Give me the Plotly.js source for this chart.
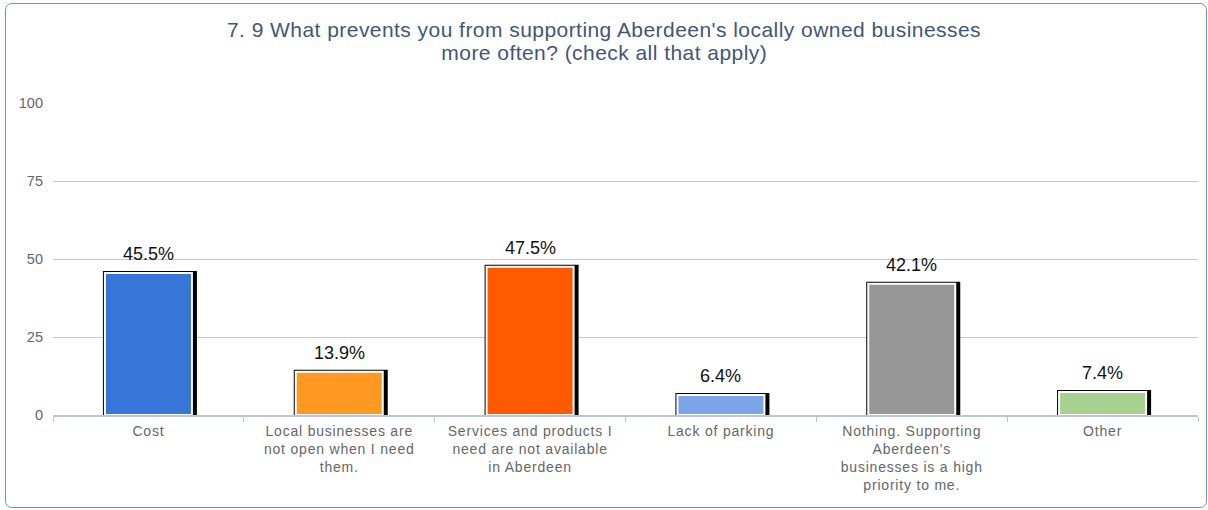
<!DOCTYPE html>
<html>
<head>
<meta charset="utf-8">
<script src="https://cdn.plot.ly/plotly-3.0.1.min.js"></script>
<style>
html,body{margin:0;padding:0;background:#fff;}
#wrap{position:relative;width:1208px;height:510px;}
#chart{position:absolute;left:0;top:0;width:1208px;height:510px;}
#frame{position:absolute;left:5px;top:3px;width:1200px;height:503px;border:1px solid #6f93c6;border-radius:7px;pointer-events:none;}
#chart .xtick text{letter-spacing:0.8px;}
#chart .gtitle{letter-spacing:0.45px;}
#chart g.annotation[data-index="0"] text{letter-spacing:0.45px;}
</style>
</head>
<body>
<div id="wrap"><div id="chart"></div><div id="frame"></div></div>
<script>
// ---- data ----
const categories = [
  "Cost",
  "Local businesses are<br>not open when I need<br>them.",
  "Services and products I<br>need are not available<br>in Aberdeen",
  "Lack of parking",
  "Nothing. Supporting<br>Aberdeen's<br>businesses is a high<br>priority to me.",
  "Other"
];
const values = [45.5, 13.9, 47.5, 6.4, 42.1, 7.4];
const valueLabels = ["45.5%", "13.9%", "47.5%", "6.4%", "42.1%", "7.4%"];
const barColors = ["#3775d9", "#ff9922", "#ff5a00", "#7da4e6", "#979797", "#a6d18e"];
const yTickVals = [0, 25, 50, 75, 100];
const titleLine1 = "7. 9 What prevents you from supporting Aberdeen's locally owned businesses";
const titleLine2 = "more often? (check all that apply)";

// ---- layout geometry ----
const plotL = 53, plotR = 10, plotT = 103, plotB = 95;
const plotH = 510 - plotT - plotB;
const catPx = (1208 - plotL - plotR) / categories.length;
const fillW = 87 / catPx;      // colored bar width (category units)
const shadowW = 90 / catPx;    // black backing bar width
const FONT = "Liberation Sans, Arial, sans-serif";

const shadow = {
  type: "bar", x: categories, y: values,
  width: categories.map(() => shadowW),
  offset: categories.map(() => -fillW / 2),
  marker: {color: "#000", line: {color: "#000", width: 4}},
  hoverinfo: "skip", showlegend: false
};
const bars = {
  type: "bar", x: categories, y: values,
  width: categories.map(() => fillW),
  offset: categories.map(() => -fillW / 2),
  marker: {color: barColors, line: {color: "#fff", width: 2}},
  showlegend: false
};

const annotations = [{
  xref: "paper", yref: "paper", x: (604 - plotL) / (1208 - plotL - plotR), y: (510 - plotB - 53) / plotH,
  xanchor: "center", yanchor: "middle", showarrow: false,
  text: titleLine2,
  font: {family: FONT, size: 21, color: "#3f5777"}
}].concat(categories.map((c, i) => ({
  x: c, y: values[i], xref: "x", yref: "y",
  text: valueLabels[i], showarrow: false,
  yanchor: "bottom", yshift: 7,
  font: {family: FONT, size: 18, color: "#111"}
})));

const layout = {
  width: 1208, height: 510,
  margin: {l: plotL, r: plotR, t: plotT, b: plotB},
  paper_bgcolor: "rgba(0,0,0,0)", plot_bgcolor: "#fff",
  barmode: "overlay",
  bargap: 0,
  title: {
    text: titleLine1,
    font: {family: FONT, size: 21, color: "#3f5777"},
    x: 0.5, xanchor: "center", xref: "container",
    y: 1 - 30/510, yanchor: "middle", yref: "container"
  },
  xaxis: {
    type: "category",
    tickson: "boundaries", ticks: "outside", ticklen: 5, tickcolor: "#b9c7da",
    showline: true, linecolor: "#b9c7da", linewidth: 2,
    showgrid: false,
    ticklabelstandoff: 2,
    tickfont: {family: FONT, size: 14, color: "#666"},
    fixedrange: true
  },
  yaxis: {
    range: [0, 100], tickvals: yTickVals, ticktext: yTickVals.map(String),
    showgrid: true, gridcolor: "#cacaca", gridwidth: 1,
    zeroline: false, showline: false,
    ticklabelstandoff: 9,
    tickfont: {family: FONT, size: 14.5, color: "#666"},
    fixedrange: true
  },
  annotations: annotations,
  font: {family: FONT}
};

Plotly.newPlot("chart", [shadow, bars], layout, {displayModeBar: false, staticPlot: true});
</script>
</body>
</html>
